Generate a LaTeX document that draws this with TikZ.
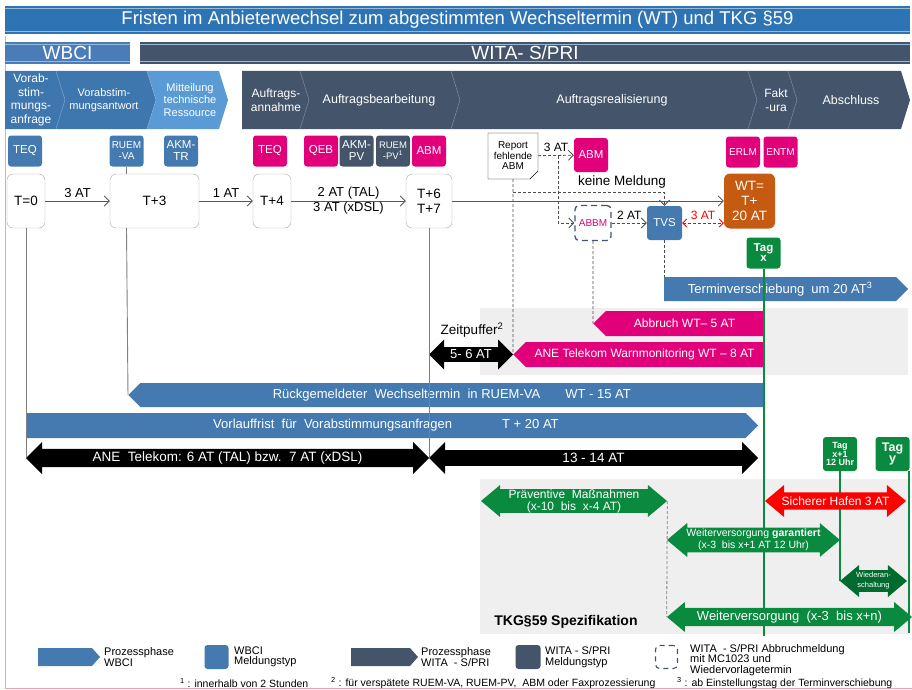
\documentclass[tikz,border=0pt]{standalone}
\usepackage{fontspec}
\setmainfont{Liberation Sans}
\usetikzlibrary{shapes.arrows,shapes.misc,arrows.meta}

\definecolor{titleblue}{HTML}{2E74B5}
\definecolor{wbciblue}{HTML}{4A7DB8}
\definecolor{phaseblue}{HTML}{3E76AE}
\definecolor{phaselight}{HTML}{5B9BD5}
\definecolor{witadark}{HTML}{44546A}
\definecolor{msgblue}{HTML}{447AAF}
\definecolor{tmagenta}{HTML}{E2007A}
\definecolor{wtorange}{HTML}{C55A11}
\definecolor{tkggreen}{HTML}{0A8A3E}
\definecolor{darkgreen}{HTML}{006B2F}
\definecolor{bggray}{HTML}{EFEFEF}
\definecolor{framepink}{HTML}{E8A6AE}

\newcommand{\fsz}[2]{\fontsize{#1}{#2}\selectfont}

\begin{document}
\begin{tikzpicture}[x=1pt, y=-1pt,
  msg/.style={rounded corners=3pt, minimum width=34pt, minimum height=31pt, inner sep=0pt,
    text=white, align=center, font=\fsz{11.5}{11.5}},
  tbox/.style={draw=black!35, rounded corners=6pt, fill=white, minimum height=54pt,
    inner sep=0pt, align=center, font=\fsz{13.5}{15}},
  phase/.style={text=white, align=center, inner sep=0pt},
  head/.style={text=white, inner sep=0pt},
  tline/.style={black!65, line width=0.9pt},
  tlabel/.style={text=black, font=\fsz{13}{13}},
  arr/.style={-{Straight Barb[length=5pt,width=10pt]}},
  dashline/.style={black!70, densely dashed, line width=0.8pt},
  abbmbox/.style={draw=witadark, line width=1.3pt, dash pattern=on 6pt off 4pt, rounded corners=4pt,
    minimum width=36pt, minimum height=35pt, inner sep=0pt, fill=white, text=tmagenta, font=\fsz{10}{10}},
  rbar/.style={single arrow, single arrow head extend=0pt, single arrow tip angle=90,
    minimum width=24pt, inner sep=0pt, text=white, font=\fsz{13}{13}},
  lbar/.style={rbar, shape border rotate=180},
  span/.style={double arrow, double arrow head extend=5pt, double arrow tip angle=90,
    minimum width=32pt, inner sep=0pt, fill=black, text=white, font=\fsz{13.5}{13.5}},
  tkg/.style={double arrow, double arrow head extend=4pt, double arrow tip angle=80,
    minimum width=32pt, inner sep=0pt, fill=tkggreen, text=white, align=center, font=\fsz{12}{12}},
  tag/.style={msg, fill=tkggreen, font=\bfseries\fsz{11.5}{10}},
  legend/.style={anchor=west, align=left, inner sep=0pt, font=\fsz{11}{10.5}},
  foot/.style={anchor=west, inner sep=0pt, font=\fsz{10.5}{10.5}}
]
\useasboundingbox (0,0) rectangle (912,690);
\fill[bggray] (480,308) rectangle (908,375);
\fill[bggray] (480,479) rectangle (908,634);
\draw[framepink] (5.5,36) -- (5.5,688) -- (912,688);

% Kopf
\node[head, fill=titleblue, minimum width=905pt, minimum height=28pt, font=\fsz{18.5}{18.5}] (title) at (457.5,20)
  {Fristen im Anbieterwechsel zum abgestimmten Wechseltermin (WT) und TKG §59};
\node[head, fill=wbciblue, minimum width=125pt, minimum height=22pt, font=\fsz{19}{19}] (wbci) at (67.5,53) {WBCI};
\node[head, fill=witadark, minimum width=770pt, minimum height=22pt, font=\fsz{19}{19}] (wita) at (525,53) {WITA- S/PRI};
\foreach \n in {title,wbci,wita}
  \draw[white!50!titleblue, line width=1.2pt] ([yshift=-2.5pt]\n.north west) -- ([yshift=-2.5pt]\n.north east)
    ([yshift=2.5pt]\n.south west) -- ([yshift=2.5pt]\n.south east);

% Prozessphasen
\fill[phaseblue] (5,71) -- (147,71) -- (156,100) -- (147,129) -- (5,129) -- cycle;
\fill[phaselight] (147,71) -- (219,71) -- (228,100) -- (219,129) -- (147,129) -- (156,100) -- cycle;
\foreach \b in {56,147}
  \draw[white!40!phaseblue] (\b,71) -- (\b+9,100) -- (\b,129);
\fill[witadark] (242,71) -- (901,71) -- (910,100) -- (901,129) -- (242,129) -- cycle;
\foreach \b in {300,451,748,788}
  \draw[white!40!witadark] (\b,71) -- (\b+9,100) -- (\b,129);
\node[phase, font=\fsz{12}{13.5}] (vaanfrage) at (31,100) {Vorab-\\stim-\\mungs-\\anfrage};
\node[phase, font=\fsz{11}{13}] (vaantwort) at (104,100) {Vorabstim-\\mungsantwort};
\node[phase, font=\fsz{11}{12.5}] (techres) at (190,100) {Mitteilung\\technische\\Ressource};
\node[phase, font=\fsz{12}{14}] (annahme) at (276,100) {Auftrags-\\annahme};
\node[phase, font=\fsz{12.5}{14}] (bearb) at (379,100) {Auftragsbearbeitung};
\node[phase, font=\fsz{12.5}{14}] (realis) at (612,100) {Auftragsrealisierung};
\node[phase, font=\fsz{12}{14}] (faktura) at (776,100) {Fakt\\-ura};
\node[phase, font=\fsz{12.5}{14}] (abschluss) at (851,100) {Abschluss};

% Meldungen
\node[msg, fill=msgblue] (teqa) at (25,151) {TEQ};
\node[msg, fill=msgblue, font=\fsz{10}{11}] (ruemva) at (126.5,151) {RUEM\\-VA};
\node[msg, fill=msgblue, font=\fsz{11.5}{12}] (akmtr) at (181,151) {AKM-\\TR};
\node[msg, fill=tmagenta] (teqb) at (270,151) {TEQ};
\node[msg, fill=tmagenta] (qeb) at (321,151) {QEB};
\node[msg, fill=witadark, font=\fsz{11.5}{12}] (akmpv) at (356.5,151) {AKM-\\PV};
\node[msg, fill=witadark, font=\fsz{9.5}{11}] (ruempv) at (393,151) {RUEM\\-PV\textsuperscript{1}};
\node[msg, fill=tmagenta] (abma) at (429,151) {ABM};
\node[msg, fill=tmagenta, minimum height=34pt] (abmb) at (591,155) {ABM};
\node[msg, fill=tmagenta, font=\fsz{10}{10}] (erlm) at (743,152) {ERLM};
\node[msg, fill=tmagenta, font=\fsz{10}{10}] (entm) at (780.5,152) {ENTM};

% Zeitstrahl
\node[tbox, minimum width=38pt] (tnull) at (26,201) {T=0};
\node[tbox, minimum width=89pt] (tdrei) at (154.5,201) {T+3};
\node[tbox, minimum width=38pt] (tvier) at (272,201) {T+4};
\node[tbox, minimum width=46pt] (tsechs) at (429,201) {T+6\\T+7};
\node[tbox, draw=none, fill=wtorange, text=white, minimum width=51pt, minimum height=55pt] (wt) at (749.5,201) {WT=\\T+\\20 AT};
\draw[tline, arr] (tnull) -- node[above, tlabel] {3 AT} (tdrei);
\draw[tline, arr] (tdrei) -- node[above, tlabel] {1 AT} (tvier);
\draw[tline, arr] (tvier) -- node[above, tlabel, inner sep=1pt] {2 AT (TAL)}
  node[below, tlabel, inner sep=1pt] {3 AT (xDSL)} (tsechs);
\draw[tline, arr] (tsechs) -- (wt);

% Report und Abbruch
\node[chamfered rectangle, chamfered rectangle corners=south east, chamfered rectangle sep=4pt,
  draw, fill=white, minimum width=50pt, minimum height=46pt, inner sep=0pt, align=center,
  font=\fsz{10}{10.5}] (report) at (513,156) {Report\\fehlende\\ABM};
\node[abbmbox] (abbm) at (593,223) {ABBM};
\node[msg, fill=msgblue, minimum width=35pt, minimum height=34pt] (tvs) at (664.5,223) {TVS};
\coordinate (fork) at (558,156);
\coordinate (keine) at (513,192);
\draw[dashline, arr] (report) -- node[above, tlabel, font=\fsz{12}{12}] {3 AT} (abmb);
\draw[dashline, arr] (fork) |- (abbm);
\draw[dashline, arr] (abbm) -- node[above, tlabel, font=\fsz{12}{12}] {2 AT} (tvs);
\draw[dashline, arr] (keine) -| node[pos=.36, above, tlabel, font=\fsz{13.5}{13.5}] {keine Meldung} (tvs.north);
\draw[red, densely dashed, line width=0.8pt, {Straight Barb[length=4pt,width=8pt]}-{Straight Barb[length=4pt,width=8pt]}]
  (tvs.east) -- node[above, font=\fsz{12}{12}] {3 AT} (tvs.east -| wt.west);

% Balken
\node[rbar, fill=msgblue, anchor=tail, minimum height=244pt] (versch) at (664,289)
  {Terminverschiebung\ \ um 20 AT\textsuperscript{3}};
\node[lbar, fill=tmagenta, anchor=tip, minimum height=170pt, minimum width=25pt, font=\fsz{12}{12}] (abbruch) at (593,323.5)
  {Abbruch WT-- 5 AT};
\node[lbar, fill=tmagenta, anchor=tip, minimum height=250pt, minimum width=25pt, font=\fsz{12}{12}] (warn) at (513,354.5)
  {ANE Telekom Warnmonitoring WT -- 8 AT};
\node[lbar, fill=msgblue, anchor=tip, minimum height=635pt] (rueck) at (128,395)
  {Rückgemeldeter\ \ Wechseltermin\ \ in RUEM-VA\hspace{25pt}WT - 15 AT};
\node[rbar, fill=msgblue, anchor=tail, minimum height=732pt, minimum width=25pt] (vorlauf) at (26,425.5)
  {Vorlauffrist\ \ für\ \ Vorabstimmungsanfragen\hspace{50pt}T + 20 AT};
\node[span, minimum height=403pt] (ane) at (227.5,458) {ANE\ \ Telekom: 6 AT (TAL) bzw.\ \ 7 AT (xDSL)};
\node[span, minimum height=329pt] (rest) at (593.5,458) {13 - 14 AT};
\node[span, minimum height=84pt, minimum width=30pt, font=\fsz{13}{13}] (puffer) at (471,354.5) {5- 6 AT};
\node[font=\fsz{13.5}{13.5}, inner sep=0pt] (zeitpuffer) at (472,330) {Zeitpuffer\textsuperscript{2}};

\draw[tline, black!50] (tnull.south) -- (tnull.south |- ane.west);
\draw[tline, black!50] (ruemva.south) -- (ruemva.south |- tdrei.north);
\draw[tline, black!50] (ruemva.south |- tdrei.south) -- (rueck.west);
\draw[tline, black!50] (tsechs.south) -- (tsechs.south |- ane.east);
\draw[dashline] (report.south) -- (warn.west);
\draw[dashline] (abbm.south) -- (abbruch.west);
\draw[dashline] (tvs.south) -- (tvs.south |- versch.north);

% TKG 59
\node[tag] (tagx) at (763.5,253) {Tag\\x};
\node[tag, font=\bfseries\fsz{9}{8.5}, minimum height=34pt] (tagxa) at (840,454) {Tag\\x+1\\12 Uhr};
\node[tag, font=\bfseries\fsz{12.5}{11.5}, minimum height=34pt] (tagy) at (892.5,454) {Tag\\y};
\draw[tkggreen, line width=2pt] (tagx.south) -- ++(0,367);
\draw[tkggreen, line width=2pt] (tagxa.south) -- ++(0,110);
\draw[tkggreen, line width=2pt] ([xshift=-1pt]tagy.south east) -- ++(0,162);
\node[tkg, minimum height=186pt] (praev) at (574,501) {Präventive\ \ Maßnahmen\\(x-10\ \ bis\ \ x-4 AT)};
\node[tkg, fill=red, minimum height=141pt] (hafen) at (835.5,501) {Sicherer Hafen 3 AT};
\node[tkg, minimum height=173pt, minimum width=34pt, font=\fsz{10.5}{11.5}] (garant) at (753.5,540)
  {Weiterversorgung \textbf{garantiert}\\(x-3\ \ bis x+1 AT 12 Uhr)};
\node[tkg, fill=darkgreen, minimum height=67pt, font=\fsz{7.5}{10}] (wieder) at (873.5,581) {Wiederan-\\schaltung};
\node[tkg, minimum height=245pt, minimum width=30pt, font=\fsz{13}{13}] (weiter) at (789.5,617)
  {Weiterversorgung\ \ (x-3\ \ bis x+n)};
\draw[dashline, black!50] (praev.east) -- (weiter.west);
\node[font=\bfseries\fsz{14}{14}, inner sep=0pt] (tkgspez) at (566,622) {TKG§59 Spezifikation};

% Legende
\fill[msgblue] (38,648) -- (92,648) -- (100,657) -- (92,666) -- (38,666) -- cycle;
\node[legend] (lgphasewbci) at (104,657) {Prozessphase\\WBCI};
\node[msg, fill=msgblue, minimum width=24pt, minimum height=24pt] (lgmsgwbci) at (216.5,657) {};
\node[legend] (lgtextwbci) at (234,657) {WBCI\\Meldungstyp};
\fill[witadark] (351,648) -- (410,648) -- (418,657) -- (410,666) -- (351,666) -- cycle;
\node[legend] (lgphasewita) at (421,657) {Prozessphase\\WITA\ \ - S/PRI};
\node[msg, fill=witadark, minimum width=25pt, minimum height=24pt] (lgmsgwita) at (528,657) {};
\node[legend] (lgtextwita) at (545,657) {WITA - S/PRI\\Meldungstyp};
\node[abbmbox, minimum width=22pt, minimum height=23pt, line width=1.1pt, dash pattern=on 5pt off 4pt] (lgabbm) at (666.5,657) {};
\node[legend] (lgtextabbm) at (690,660) {WITA\ \ - S/PRI Abbruchmeldung\\mit MC1023 und\\Wiedervorlagetermin};
\node[foot] (fneins) at (180,683) {\textsuperscript{1} : innerhalb von 2 Stunden};
\node[foot] (fnzwei) at (331,683) {\textsuperscript{2} : für verspätete RUEM-VA, RUEM-PV,\ \ ABM oder Faxprozessierung};
\node[foot] (fndrei) at (677,683) {\textsuperscript{3} : ab Einstellungstag der Terminverschiebung};
\end{tikzpicture}
\end{document}
